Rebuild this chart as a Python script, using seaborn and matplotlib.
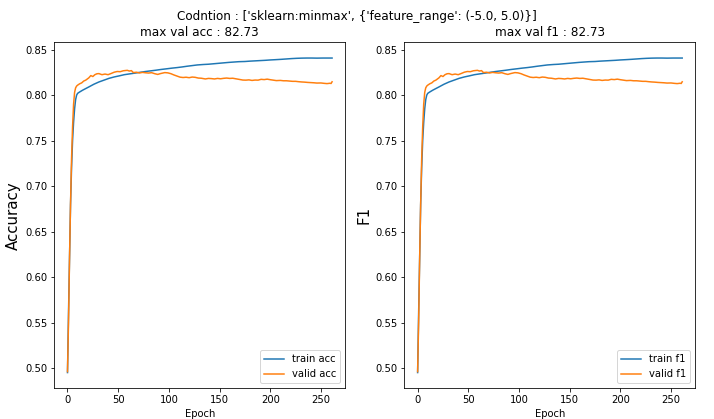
import pandas as pd
import seaborn as sns
import matplotlib
matplotlib.use("Agg")
import matplotlib.pyplot as plt

# values (acc and f1 curves look identical)
train_epochs = [0, 1, 2, 3, 4, 5, 6, 7, 8, 9, 10, 12, 15, 21, 26, 31, 36, 41, 46, 51,
                56, 62, 67, 72, 77, 82, 87, 92, 98, 103, 108, 113, 118, 123, 128, 134,
                139, 144, 149, 154, 159, 164, 169, 175, 180, 185, 190, 195, 200, 205,
                211, 216, 221, 226, 231, 236, 241, 246, 252, 257, 261]
train_acc = [0.495, 0.56, 0.62, 0.68, 0.72, 0.75, 0.77, 0.785, 0.795, 0.800, 0.802,
             0.8035, 0.8055, 0.809, 0.812, 0.8145, 0.8165, 0.8185, 0.8200, 0.8212,
             0.8225, 0.8235, 0.8243, 0.8252, 0.826, 0.8267, 0.8274, 0.8282, 0.829,
             0.8297, 0.8303, 0.831, 0.8318, 0.8325, 0.8332, 0.8337, 0.834, 0.8345,
             0.835, 0.8355, 0.836, 0.8364, 0.8368, 0.837, 0.8374, 0.8377, 0.838,
             0.8383, 0.8387, 0.839, 0.8394, 0.8398, 0.8402, 0.8405, 0.8407, 0.8408,
             0.8408, 0.8407, 0.8408, 0.8408, 0.8408]

valid_epochs = [0, 1, 2, 3, 4, 5, 6, 7, 8, 9, 10, 12, 14, 16, 18, 21, 23, 25, 27, 29,
                31, 34, 37, 40, 43, 46, 49, 52, 55, 59, 61, 63, 65, 68, 71, 74, 77, 80,
                83, 86, 89, 92, 96, 99, 102, 105, 108, 111, 114, 117, 120, 123, 126, 129,
                132, 136, 139, 142, 145, 148, 151, 154, 157, 160, 163, 166, 169, 173,
                176, 179, 182, 185, 188, 191, 194, 197, 200, 203, 206, 210, 213, 216,
                219, 222, 225, 228, 231, 234, 237, 240, 243, 246, 250, 253, 256, 259,
                260, 261]
valid_acc = [0.496, 0.55, 0.62, 0.68, 0.73, 0.765, 0.79, 0.803, 0.808, 0.810, 0.811,
             0.8125, 0.8135, 0.8155, 0.8165, 0.819, 0.8215, 0.8205, 0.8225, 0.8235,
             0.8237, 0.8225, 0.8232, 0.8225, 0.8238, 0.8252, 0.826, 0.8258, 0.8268,
             0.8273, 0.8265, 0.827, 0.8248, 0.8252, 0.8244, 0.825, 0.8246, 0.8243,
             0.8247, 0.8236, 0.8228, 0.8238, 0.8248, 0.8245, 0.8236, 0.8222, 0.821,
             0.8198, 0.8194, 0.8197, 0.8192, 0.8199, 0.8196, 0.8188, 0.8186, 0.8178,
             0.8184, 0.8182, 0.8178, 0.8184, 0.818, 0.8185, 0.8188, 0.8184, 0.8186,
             0.818, 0.8174, 0.8166, 0.8165, 0.8168, 0.8162, 0.8166, 0.8165, 0.8174,
             0.8171, 0.8176, 0.817, 0.8165, 0.816, 0.8162, 0.8158, 0.8158, 0.8155,
             0.8152, 0.8152, 0.8148, 0.8145, 0.8143, 0.814, 0.8138, 0.8136, 0.8133,
             0.8134, 0.813, 0.8127, 0.8131, 0.8128, 0.8147]

train_f1 = list(train_acc)
valid_f1 = list(valid_acc)

colors = ['#1f77b4', '#ff7f0e']


def make_frame(train_vals, valid_vals, name):
    """Long-form table of train / valid curves for one metric."""
    train_df = pd.DataFrame({'Epoch': train_epochs, 'value': train_vals,
                             'series': 'train ' + name})
    valid_df = pd.DataFrame({'Epoch': valid_epochs, 'value': valid_vals,
                             'series': 'valid ' + name})
    return pd.concat([train_df, valid_df], ignore_index=True)


fig, axes = plt.subplots(1, 2, figsize=(714 / 72, 419 / 72), dpi=72)
plt.subplots_adjust(left=0.076, right=0.974, bottom=0.0733, top=0.899, wspace=0.203)

panels = [
    (make_frame(train_acc, valid_acc, 'acc'), 'Accuracy', 'max val acc : 82.73'),
    (make_frame(train_f1, valid_f1, 'f1'), 'F1', 'max val f1 : 82.73'),
]

for ax, (df, ylabel, title) in zip(axes, panels):
    sns.lineplot(data=df, x='Epoch', y='value', hue='series', palette=colors,
                 linewidth=1.5, ax=ax)
    ax.set_title(title, fontsize=12)
    ax.set_ylabel(ylabel, fontsize=15)
    ax.set_xlabel('Epoch', fontsize=10)
    ax.tick_params(labelsize=10)
    ax.set_xticks([0, 50, 100, 150, 200, 250])
    ax.set_yticks([0.50, 0.55, 0.60, 0.65, 0.70, 0.75, 0.80, 0.85])
    ax.legend(loc='lower right', fontsize=10, title=None)

fig.suptitle("Codntion : ['sklearn:minmax', {'feature_range': (-5.0, 5.0)}]",
             fontsize=12, y=0.975)

plt.savefig('out.png', dpi=72)
plt.close()
